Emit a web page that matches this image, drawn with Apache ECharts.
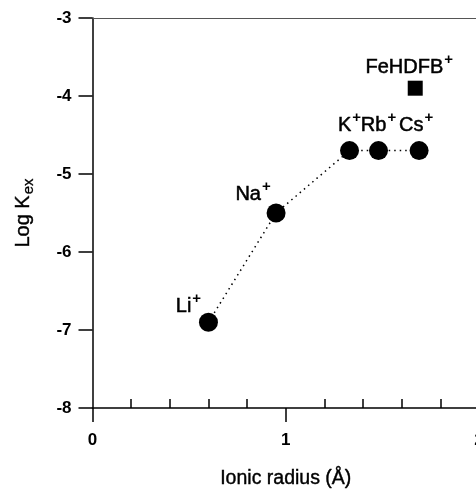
<!DOCTYPE html>
<html>
<head>
<meta charset="utf-8">
<script src="https://cdn.jsdelivr.net/npm/echarts@6/dist/echarts.min.js"></script>
<style>
  html, body { margin: 0; padding: 0; background: #fff; }
  #chart { width: 476px; height: 491px; }
</style>
</head>
<body>
<div id="chart"></div>
<script>
// alkali ions: ionic radius (A) vs log Kex
var ions = ['Li', 'Na', 'K', 'Rb', 'Cs'];
var radius = [0.60, 0.95, 1.33, 1.48, 1.69];
var logK = [-6.9, -5.5, -4.7, -4.7, -4.7];
// label offsets (px) from the marker centre
var labelOffsets = [[-20, -16], [-23, -19], [0, -25], [0, -25], [-3, -25]];

// FeHDFB+ complex
var feName = 'FeHDFB';
var feRadius = 1.67;
var feLogK = -3.9;

var xTicks = [0, 1, 2];
var yTicks = [-8, -7, -6, -5, -4, -3];

var FONT = 'Liberation Sans, Arial, sans-serif';

var richText = {
    n: { fontFamily: FONT, fontSize: 20, color: '#000', lineHeight: 30, textBorderColor: '#000', textBorderWidth: 0.5 },
    s: { fontFamily: FONT, fontSize: 15, color: '#000', fontWeight: 'bold', verticalAlign: 'top', lineHeight: 8, padding: [0, 0, 0, 1] }
};

var ionData = [];
for (var i = 0; i < ions.length; i++) {
    ionData.push({
        value: [radius[i], logK[i]],
        label: {
            show: true,
            position: 'inside',
            offset: labelOffsets[i],
            color: '#000',
            formatter: '{n|' + ions[i] + '}{s|+}',
            rich: richText
        }
    });
}

var chart = echarts.init(document.getElementById('chart'));
chart.setOption({
    animation: false,
    backgroundColor: '#fff',
    grid: { left: 92.5, right: -3, top: 18, bottom: 83, outerBoundsMode: 'none', containLabel: false },
    xAxis: [{
        type: 'value',
        min: xTicks[0], max: xTicks[xTicks.length - 1], interval: 1,
        position: 'bottom',
        axisLine: { show: true, onZero: false, lineStyle: { color: '#000', width: 1.5 } },
        axisTick: { show: true, inside: false, length: 14, lineStyle: { color: '#000', width: 1.5 } },
        axisLabel: { margin: 24, fontFamily: FONT, fontSize: 17, fontWeight: 'bold', color: '#000' },
        splitLine: { show: false },
        name: 'Ionic radius (Å)',
        nameLocation: 'middle',
        nameGap: 61,
        nameTextStyle: { fontFamily: FONT, fontSize: 19.5, color: '#000', textBorderColor: '#000', textBorderWidth: 0.4 }
    }, {
        // minor ticks pointing inward
        type: 'value',
        min: xTicks[0], max: xTicks[xTicks.length - 1], interval: 1,
        position: 'bottom',
        axisLine: { show: false },
        axisTick: { show: false, inside: true },
        minorTick: { show: true, splitNumber: 5, length: 9, lineStyle: { color: '#000', width: 1.5 } },
        axisLabel: { show: false },
        splitLine: { show: false }
    }, {
        // top frame line
        type: 'value',
        min: xTicks[0], max: xTicks[xTicks.length - 1],
        position: 'top',
        axisLine: { show: true, onZero: false, lineStyle: { color: '#555', width: 1 } },
        axisTick: { show: false },
        axisLabel: { show: false },
        splitLine: { show: false }
    }],
    yAxis: {
        type: 'value',
        min: yTicks[0], max: yTicks[yTicks.length - 1], interval: 1,
        axisLine: { show: true, onZero: false, lineStyle: { color: '#000', width: 1.5 } },
        axisTick: { show: true, inside: false, length: 14, lineStyle: { color: '#000', width: 1.5 } },
        axisLabel: { margin: 21, fontFamily: FONT, fontSize: 17, fontWeight: 'bold', color: '#000' },
        splitLine: { show: false },
        name: '{a|Log K}{b|ex}',
        nameLocation: 'middle',
        nameRotate: 90,
        nameGap: 56,
        nameTextStyle: {
            rich: {
                a: { fontFamily: FONT, fontSize: 20, color: '#000', lineHeight: 26, textBorderColor: '#000', textBorderWidth: 0.4 },
                b: { fontFamily: FONT, fontSize: 15, color: '#000', verticalAlign: 'bottom', lineHeight: 26, padding: [8, 0, 0, 1], textBorderColor: '#000', textBorderWidth: 0.3 }
            }
        }
    },
    series: [{
        type: 'line',
        xAxisIndex: 0,
        data: ionData,
        symbol: 'circle',
        symbolSize: 19,
        itemStyle: { color: '#000', opacity: 1 },
        lineStyle: { color: '#000', width: 1.5, type: [1.5, 4] },
        z: 3
    }, {
        type: 'scatter',
        xAxisIndex: 0,
        data: [{
            value: [feRadius, feLogK],
            label: {
                show: true,
                position: 'inside',
                offset: [-6, -21],
                color: '#000',
                formatter: '{n|' + feName + '}{s|+}',
                rich: richText
            }
        }],
        symbol: 'rect',
        symbolSize: 15,
        itemStyle: { color: '#000', opacity: 1 },
        z: 3
    }]
});
</script>
</body>
</html>
